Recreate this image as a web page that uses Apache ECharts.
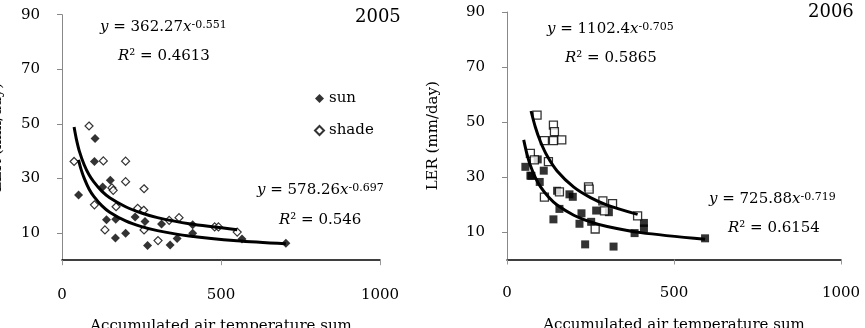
<!DOCTYPE html>
<html>
<head>
<meta charset="utf-8">
<script src="https://cdn.jsdelivr.net/npm/echarts@6/dist/echarts.min.js"></script>
<style>
  html, body { margin: 0; padding: 0; background: #fff; }
  #chart { width: 865px; height: 328px; }
</style>
</head>
<body>
<div id="chart"></div>
<script>
// 2005 panel: [accumulated temperature, LER]
var sun2005 = [[52, 23.9], [104, 44.6], [102, 36.2], [152, 29.3], [128, 26.8], [140, 14.8],
  [169, 15], [168, 8.1], [200, 9.9], [230, 15.8], [261, 14.2], [269, 5.4], [313, 13.3],
  [340, 5.6], [362, 8], [411, 9.9], [411, 13], [566, 7.8], [704, 6.2]]
var shade2005 = [[38, 36.2], [85, 49.2], [130, 36.4], [200, 36.3], [200, 28.8], [102, 20.3],
  [157, 26.5], [161, 25.6], [258, 26.2], [170, 19.6], [135, 11.1], [238, 19], [257, 18.3],
  [258, 11.1], [302, 7.2], [337, 14.6], [368, 15.6], [480, 12.2], [492, 12.2], [551, 10.3]]
// 2006 panel
var sun2006 = [[55, 33.7], [70, 30.5], [73, 30.4], [92, 36.4], [98, 28.2], [110, 32.3],
  [139, 14.6], [150, 25], [157, 18.4], [187, 23.7], [197, 22.8], [217, 13], [223, 16.8],
  [234, 5.5], [252, 13.7], [267, 17.8], [305, 17.2], [319, 4.7], [382, 9.6], [410, 13.3],
  [410, 11.3], [593, 7.7]]
var shade2006 = [[90, 52.5], [139, 48.9], [142, 46.5], [112, 43.2], [139, 43.2], [164, 43.5],
  [70, 38.6], [82, 36.2], [124, 35.6], [112, 22.7], [157, 24.6], [244, 26.4], [246, 25.6],
  [287, 21.3], [292, 17.7], [316, 20.3], [264, 11.1], [391, 15.9]]

// trend lines
var fitShade2005 = [[38, 48.8], [45, 44.5], [55, 39.8], [70, 34.9], [85, 31.3], [100, 28.7],
  [125, 25.3], [150, 22.9], [200, 19.6], [250, 17.3], [300, 15.6], [400, 13.35], [551, 11.2]]
var fitSun2005 = [[52, 36.8], [60, 33.3], [70, 30], [85, 26.1], [100, 23.4], [125, 20],
  [150, 17.6], [200, 14.4], [250, 12.3], [300, 10.85], [400, 8.88], [550, 7.11], [704, 6]]
var fitShade2006 = [[72, 54], [85, 48.1], [100, 42.9], [120, 37.7], [150, 32.2], [200, 26.3],
  [250, 22.5], [300, 19.8], [391, 16.4]]
var fitSun2006 = [[50, 43.5], [60, 38.2], [70, 34.2], [85, 29.8], [100, 26.5], [125, 22.6],
  [150, 19.8], [200, 16.1], [250, 13.7], [300, 12], [400, 9.77], [593, 7.36]]

var yTicks = [10, 30, 50, 70, 90]
var xName = 'Accumulated air temperature sum'
var yName = 'LER (mm/day)'

var serif = 'DejaVu Serif'
var chart = echarts.init(document.getElementById('chart'))

function xAxis (idx) {
  return {
    gridIndex: idx,
    type: 'value',
    min: 0,
    max: 1000,
    interval: 500,
    name: xName,
    nameLocation: 'middle',
    nameGap: 58,
    nameTextStyle: { fontFamily: serif, fontSize: 15, color: '#000' },
    axisLine: { lineStyle: { color: '#000', width: 1.5 } },
    axisTick: { show: true, length: 5, lineStyle: { color: '#999' } },
    axisLabel: {
      margin: idx === 0 ? 27 : 26,
      fontFamily: serif, fontSize: 15, color: '#000',
      formatter: function (v) { return String(v) }
    },
    splitLine: { show: false }
  }
}

function yAxis (idx) {
  return {
    gridIndex: idx,
    type: 'value',
    min: 0,
    max: 90,
    name: yName,
    nameLocation: 'middle',
    nameRotate: 90,
    nameGap: idx === 0 ? 57 : 66,
    nameTextStyle: { fontFamily: serif, fontSize: 15, color: '#000' },
    axisLine: { show: true, lineStyle: { color: '#888', width: 1 } },
    axisTick: { show: true, length: 5, customValues: yTicks, lineStyle: { color: '#888' } },
    axisLabel: { margin: 22, customValues: yTicks, fontFamily: serif, fontSize: 15, color: '#000' },
    splitLine: { show: false }
  }
}

function eq (x, y, coef, pow) {
  return {
    type: 'text', left: x, top: y - 10, z: 100,
    style: {
      text: '{i|y} = ' + coef + '{i|x}{sup|' + pow + '}',
      font: '15px ' + serif, fill: '#000',
      rich: {
        i: { fontStyle: 'italic', fontSize: 15, fontFamily: serif },
        sup: { fontSize: 11, fontFamily: serif, verticalAlign: 'top' }
      }
    }
  }
}

function r2 (x, y, val) {
  return {
    type: 'text', left: x, top: y - 9, z: 100,
    style: {
      text: '{i|R}² = ' + val,
      font: '15px ' + serif, fill: '#000',
      rich: { i: { fontStyle: 'italic', fontSize: 15, fontFamily: serif } }
    }
  }
}

var fitLine = { type: 'line', showSymbol: false, smooth: 0.3, z: 5,
  lineStyle: { color: '#000', width: 3 }, silent: true }

chart.setOption({
  animation: false,
  backgroundColor: '#fff',
  grid: [
    { left: 62, top: 14.7, width: 318, height: 245.5, outerBoundsMode: 'none', containLabel: false },
    { left: 507, top: 12, width: 334, height: 247.5, outerBoundsMode: 'none', containLabel: false }
  ],
  xAxis: [xAxis(0), xAxis(1)],
  yAxis: [yAxis(0), yAxis(1)],
  legend: {
    data: ['sun', 'shade'],
    orient: 'vertical',
    left: 309,
    top: 86,
    itemWidth: 9,
    itemHeight: 9,
    itemGap: 17,
    textStyle: { fontFamily: serif, fontSize: 15, color: '#000' }
  },
  graphic: [
    { type: 'text', left: 355, top: 8, style: { text: '2005', font: '18px ' + serif, fill: '#000' } },
    { type: 'text', left: 808, top: 3, style: { text: '2006', font: '18px ' + serif, fill: '#000' } },
    eq(100, 30, '362.27', '-0.551'),
    r2(118, 58, '0.4613'),
    eq(257, 193, '578.26', '-0.697'),
    r2(279, 222, '0.546'),
    eq(547, 32, '1102.4', '-0.705'),
    r2(565, 60, '0.5865'),
    eq(709, 202, '725.88', '-0.719'),
    r2(728, 230, '0.6154')
  ],
  series: [
    { name: 'sun', type: 'scatter', xAxisIndex: 0, yAxisIndex: 0, data: sun2005,
      symbol: 'diamond', symbolSize: 9, itemStyle: { color: '#000' } },
    { name: 'shade', type: 'scatter', xAxisIndex: 0, yAxisIndex: 0, data: shade2005,
      symbol: 'diamond', symbolSize: 8, itemStyle: { color: '#fff', borderColor: '#000', borderWidth: 1.2 } },
    Object.assign({ name: 'fit shade 2005', xAxisIndex: 0, yAxisIndex: 0, data: fitShade2005 }, fitLine),
    Object.assign({ name: 'fit sun 2005', xAxisIndex: 0, yAxisIndex: 0, data: fitSun2005 }, fitLine),
    { name: 'sun 2006', type: 'scatter', xAxisIndex: 1, yAxisIndex: 1, data: sun2006,
      symbol: 'rect', symbolSize: 8, itemStyle: { color: '#000' } },
    { name: 'shade 2006', type: 'scatter', xAxisIndex: 1, yAxisIndex: 1, data: shade2006,
      symbol: 'rect', symbolSize: 8, itemStyle: { color: '#fff', borderColor: '#000', borderWidth: 1.3 } },
    Object.assign({ name: 'fit shade 2006', xAxisIndex: 1, yAxisIndex: 1, data: fitShade2006 }, fitLine),
    Object.assign({ name: 'fit sun 2006', xAxisIndex: 1, yAxisIndex: 1, data: fitSun2006 }, fitLine)
  ]
})
</script>
</body>
</html>
